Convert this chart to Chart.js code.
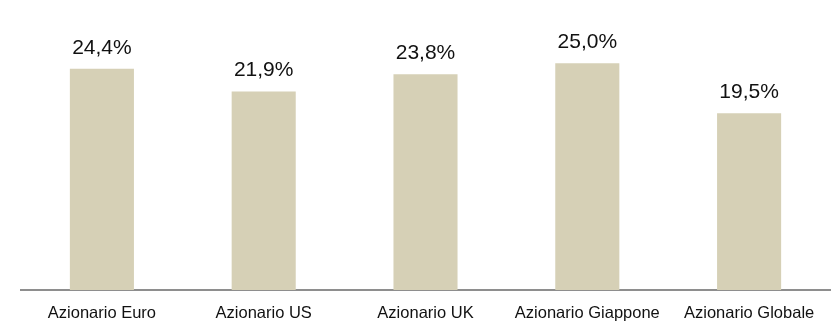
<!DOCTYPE html>
<html>
<head>
<meta charset="utf-8">
<script src="https://cdn.jsdelivr.net/npm/chart.js@4"></script>
<style>
  html, body { margin: 0; padding: 0; background: #ffffff; }
  #wrap { width: 836px; height: 332px; position: relative; }
</style>
</head>
<body>
<div id="wrap"><canvas id="chart" width="836" height="332"></canvas></div>
<script>
// Categories and values (percent)
const categories = ['Azionario Euro', 'Azionario US', 'Azionario UK', 'Azionario Giappone', 'Azionario Globale'];
const values = [24.4, 21.9, 23.8, 25.0, 19.5];

const barColor = 'rgb(214, 208, 182)';
const fontFamily = '"Liberation Sans", Arial, sans-serif';

// Writes the value above each bar, Italian decimal comma
const valueLabels = {
  id: 'valueLabels',
  afterDatasetsDraw(chart) {
    const ctx = chart.ctx;
    const meta = chart.getDatasetMeta(0);
    ctx.save();
    ctx.font = '21px ' + fontFamily;
    ctx.fillStyle = '#111111';
    ctx.textAlign = 'center';
    ctx.textBaseline = 'alphabetic';
    meta.data.forEach((bar, i) => {
      const v = chart.data.datasets[0].data[i];
      const txt = v.toFixed(1).replace('.', ',') + '%';
      ctx.fillText(txt, bar.x, bar.y - 15);
    });
    ctx.restore();
  }
};

new Chart(document.getElementById('chart'), {
  type: 'bar',
  data: {
    labels: categories,
    datasets: [{
      data: values,
      backgroundColor: barColor,
      borderWidth: 0,
      categoryPercentage: 1,
      barPercentage: 0.396
    }]
  },
  options: {
    responsive: false,
    animation: false,
    layout: { padding: { left: 21, right: 6, top: 18, bottom: 0 } },
    plugins: { legend: { display: false }, tooltip: { enabled: false } },
    scales: {
      x: {
        grid: { display: false, drawTicks: false },
        border: { display: true, color: '#8e8e8e', width: 2 },
        ticks: {
          color: '#111111',
          font: { family: fontFamily, size: 16.5 },
          padding: 14,
          maxRotation: 0,
          autoSkip: false
        },
        afterFit(scale) { scale.height = 42; }
      },
      y: {
        display: false,
        min: 0,
        max: 30
      }
    }
  },
  plugins: [valueLabels]
});
</script>
</body>
</html>
